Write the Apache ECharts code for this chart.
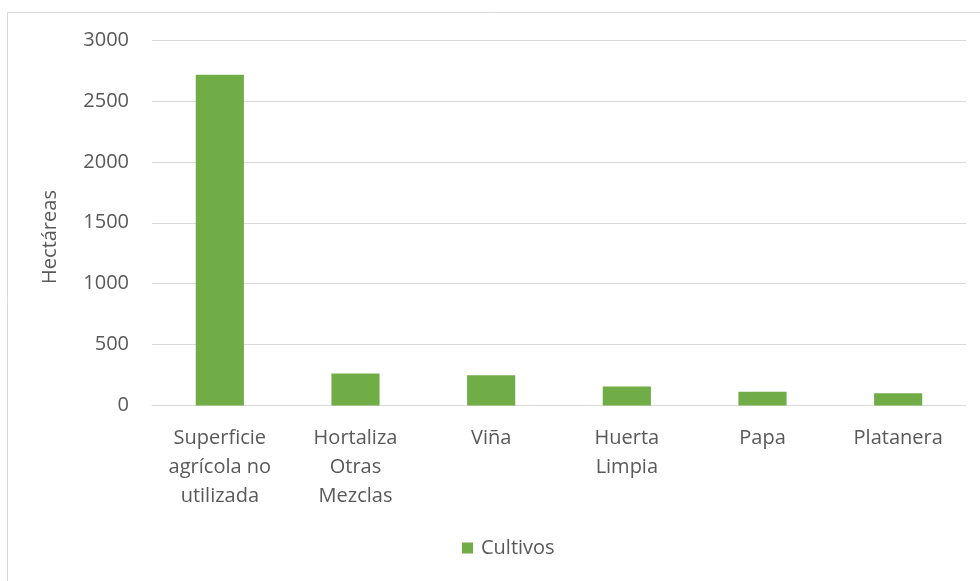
<!DOCTYPE html>
<html><head><meta charset="utf-8">
<script src="https://cdn.jsdelivr.net/npm/echarts@6/dist/echarts.min.js"></script>
<style>html,body{margin:0;padding:0;background:#fff}#c{width:980px;height:581px}</style>
</head><body><div id="c"></div>
<script>
const categories = ["Superficie\nagrícola no\nutilizada", "Hortaliza\nOtras\nMezclas", "Viña", "Huerta\nLimpia", "Papa", "Platanera"];
const cultivos = [2715, 262, 249, 156, 112, 101];
const yTicks = [0, 500, 1000, 1500, 2000, 2500, 3000];
const seriesName = "Cultivos";
const yName = "Hectáreas";

const font = "'Open Sans', 'Noto Sans', sans-serif";
const chart = echarts.init(document.getElementById('c'), null, {renderer: 'canvas'});
chart.setOption({
  animation: false,
  backgroundColor: '#fff',
  graphic: [
    {type: 'rect', left: 5, top: 10, shape: {width: 1000, height: 600}, style: {fill: 'none', stroke: '#d9d9d9', lineWidth: 1}, silent: true},
    {type: 'text', x: 50, y: 237, rotation: Math.PI / 2, silent: true,
     style: {text: yName, fill: '#595959', font: "20px 'Open Sans', 'Noto Sans', sans-serif", textAlign: 'center', textVerticalAlign: 'middle'}}
  ],
  grid: {left: 152, right: 14, top: 40, bottom: 175.5},
  xAxis: {
    type: 'category', data: categories,
    axisLine: {lineStyle: {color: '#d9d9d9'}},
    axisTick: {show: false},
    axisLabel: {color: '#595959', fontFamily: font, fontSize: 20, lineHeight: 29, margin: 18, interval: 0}
  },
  yAxis: {
    type: 'value', min: yTicks[0], max: yTicks[yTicks.length - 1], interval: 500,
    axisLine: {show: false}, axisTick: {show: false},
    axisLabel: {color: '#595959', fontFamily: font, fontSize: 20, margin: 23, formatter: v => String(v)},
    splitLine: {lineStyle: {color: '#d9d9d9'}}
  },
  legend: {
    bottom: 18, left: 457, itemWidth: 11, itemHeight: 11, itemGap: 6,
    icon: 'rect',
    textStyle: {color: '#595959', fontFamily: font, fontSize: 20, padding: [0, 0, 0, 3]},
    data: [seriesName]
  },
  series: [{
    name: seriesName, type: 'bar', data: cultivos, barWidth: '35.5%',
    itemStyle: {color: '#70ad47'}
  }]
});
</script></body></html>
